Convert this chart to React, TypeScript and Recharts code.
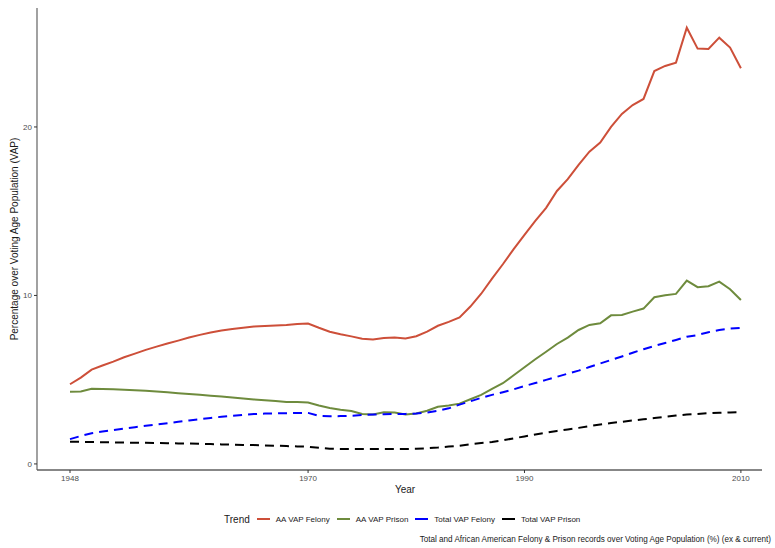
import React from "react";
import { LineChart, Line, XAxis, YAxis, Label } from "recharts";

// Years covered by the series (one observation per year)
const years: number[] = [
  1948, 1949, 1950, 1951, 1952, 1953, 1954, 1955, 1956, 1957,
  1958, 1959, 1960, 1961, 1962, 1963, 1964, 1965, 1966, 1967,
  1968, 1969, 1970, 1971, 1972, 1973, 1974, 1975, 1976, 1977,
  1978, 1979, 1980, 1981, 1982, 1983, 1984, 1985, 1986, 1987,
  1988, 1989, 1990, 1991, 1992, 1993, 1994, 1995, 1996, 1997,
  1998, 1999, 2000, 2001, 2002, 2003, 2004, 2005, 2006, 2007,
  2008, 2009, 2010,
];

// African American felony records over VAP (%)
const aaVapFelony: number[] = [
  4.73, 5.12, 5.6, 5.84, 6.07, 6.33, 6.55, 6.77, 6.96, 7.15,
  7.32, 7.5, 7.66, 7.8, 7.92, 8.01, 8.08, 8.15, 8.19, 8.22,
  8.24, 8.31, 8.33, 8.08, 7.85, 7.7, 7.57, 7.43, 7.38, 7.47,
  7.5, 7.45, 7.58, 7.85, 8.2, 8.43, 8.7, 9.34, 10.1, 11.0,
  11.85, 12.75, 13.6, 14.42, 15.2, 16.2, 16.9, 17.75, 18.53, 19.07,
  20.0, 20.77, 21.3, 21.66, 23.32, 23.62, 23.82, 25.89, 24.65, 24.63,
  25.3, 24.71, 23.48,
];

// African American prison records over VAP (%)
const aaVapPrison: number[] = [
  4.29, 4.3, 4.46, 4.45, 4.43, 4.41, 4.38, 4.35, 4.3, 4.25,
  4.2, 4.15, 4.1, 4.05, 4.0, 3.94, 3.88, 3.83, 3.78, 3.73,
  3.68, 3.67, 3.64, 3.47, 3.32, 3.22, 3.14, 2.97, 2.94, 3.06,
  3.05, 2.94, 3.0, 3.16, 3.39, 3.47, 3.58, 3.84, 4.1, 4.45,
  4.79, 5.26, 5.74, 6.21, 6.66, 7.12, 7.5, 7.95, 8.25, 8.35,
  8.82, 8.84, 9.04, 9.22, 9.89, 10.01, 10.09, 10.88, 10.49, 10.55,
  10.82, 10.37, 9.73,
];

// Total felony records over VAP (%)
const totalVapFelony: number[] = [
  1.47, 1.66, 1.82, 1.92, 2.01, 2.1, 2.18, 2.26, 2.34, 2.42,
  2.5, 2.58, 2.66, 2.73, 2.8, 2.86, 2.91, 2.96, 2.99, 3.0,
  3.01, 3.02, 3.03, 2.85, 2.83, 2.84, 2.86, 2.9, 2.93, 2.95,
  2.96, 2.97, 2.99, 3.05, 3.15, 3.3, 3.52, 3.72, 3.92, 4.1,
  4.26, 4.43, 4.62, 4.8, 4.99, 5.17, 5.36, 5.54, 5.75, 5.96,
  6.17, 6.38, 6.6, 6.81, 7.0, 7.18, 7.36, 7.55, 7.65, 7.82,
  7.95, 8.03, 8.08,
];

// Total prison records over VAP (%)
const totalVapPrison: number[] = [
  1.31, 1.31, 1.3, 1.29, 1.28, 1.27, 1.26, 1.25, 1.24, 1.23,
  1.22, 1.21, 1.2, 1.18, 1.16, 1.14, 1.13, 1.12, 1.1, 1.08,
  1.06, 1.04, 1.02, 0.96, 0.9, 0.89, 0.89, 0.89, 0.89, 0.89,
  0.89, 0.89, 0.9, 0.93, 0.97, 1.03, 1.08, 1.17, 1.24, 1.3,
  1.4, 1.52, 1.63, 1.75, 1.86, 1.96, 2.05, 2.14, 2.24, 2.34,
  2.43, 2.5, 2.58, 2.65, 2.72, 2.8, 2.87, 2.93, 2.97, 3.01,
  3.04, 3.06, 3.07,
];

const xTicks: number[] = [1948, 1970, 1990, 2010];
const yTicks: number[] = [0, 10, 20];

const series = [
  { key: "aaFelony", name: "AA VAP Felony", color: "#CD4F39", dash: undefined as string | undefined },
  { key: "aaPrison", name: "AA VAP Prison", color: "#6E8B3D", dash: undefined as string | undefined },
  { key: "totalFelony", name: "Total VAP Felony", color: "#0000FF", dash: "9 6" },
  { key: "totalPrison", name: "Total VAP Prison", color: "#000000", dash: "9 6" },
];

const data = years.map((year, i) => ({
  year,
  aaFelony: aaVapFelony[i],
  aaPrison: aaVapPrison[i],
  totalFelony: totalVapFelony[i],
  totalPrison: totalVapPrison[i],
}));

const FONT = "'Liberation Sans', Arial, Helvetica, sans-serif";
const tickStyle = { fill: "#4D4D4D", fontSize: 8, fontFamily: FONT };

export default function App() {
  return (
    <div style={{ position: "absolute", left: 0, top: 0, width: 775, height: 548, background: "#fff", fontFamily: FONT }}>
      <LineChart
        width={775}
        height={548}
        data={data}
        margin={{ top: 8, right: 13, bottom: 48, left: 0 }}
      >
        <XAxis
          dataKey="year"
          type="number"
          domain={[1944.95, 2011.95]}
          ticks={xTicks}
          allowDataOverflow
          height={30}
          tickSize={3}
          tickMargin={2}
          axisLine={{ stroke: "#111", strokeWidth: 1.1 }}
          tickLine={{ stroke: "#333" }}
          tick={tickStyle}
        >
          <Label
            content={() => (
              <text x={405} y={493} textAnchor="middle" fontSize={10} fontFamily={FONT} fill="#1a1a1a">
                Year
              </text>
            )}
          />
        </XAxis>
        <YAxis
          type="number"
          domain={[-0.36, 27.06]}
          ticks={yTicks}
          allowDataOverflow
          width={37}
          tickSize={3}
          tickMargin={2}
          axisLine={{ stroke: "#555", strokeWidth: 1.1 }}
          tickLine={{ stroke: "#333" }}
          tick={tickStyle}
        >
          <Label
            content={() => (
              <text
                x={14}
                y={239}
                dy="0.35em"
                textAnchor="middle"
                fontSize={10}
                fontFamily={FONT}
                fill="#1a1a1a"
                transform="rotate(-90, 14, 239)"
              >
                Percentage over Voting Age Population (VAP)
              </text>
            )}
          />
        </YAxis>
        {series.map((s) => (
          <Line
            key={s.key}
            dataKey={s.key}
            name={s.name}
            type="linear"
            stroke={s.color}
            strokeWidth={2}
            strokeDasharray={s.dash}
            dot={false}
            activeDot={false}
            isAnimationActive={false}
          />
        ))}
      </LineChart>

      {/* legend */}
      <div
        style={{
          position: "absolute",
          left: 224,
          top: 511,
          height: 16,
          display: "flex",
          alignItems: "center",
          fontSize: 8,
          color: "#1a1a1a",
          whiteSpace: "nowrap",
        }}
      >
        <span style={{ fontSize: 10, marginRight: 7 }}>Trend</span>
        {series.map((s) => (
          <span key={s.key} style={{ display: "flex", alignItems: "center", marginRight: 7 }}>
            <span style={{ display: "inline-block", width: 13, height: 2, background: s.color, marginRight: 6 }} />
            <span>{s.name}</span>
          </span>
        ))}
      </div>

      {/* caption */}
      <div
        style={{
          position: "absolute",
          right: 4,
          top: 535,
          fontSize: 8.15,
          color: "#1a1a1a",
          whiteSpace: "nowrap",
        }}
      >
        Total and African American Felony &amp; Prison records over Voting Age Population (%) (ex &amp; current)
      </div>
    </div>
  );
}
